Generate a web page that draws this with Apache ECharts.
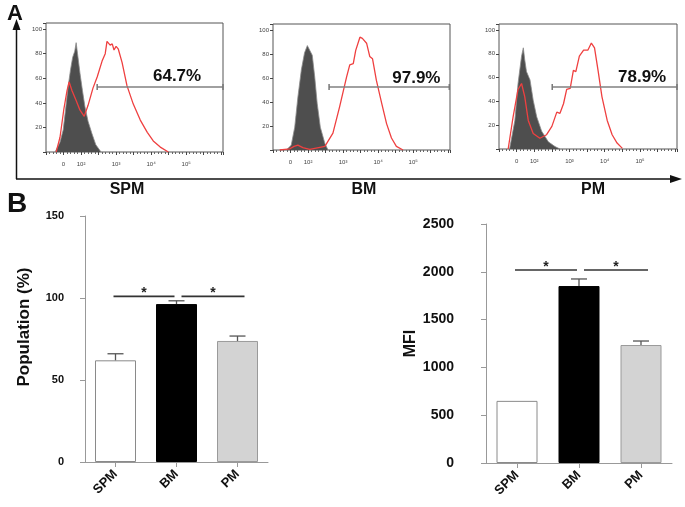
<!DOCTYPE html>
<html>
<head>
<meta charset="utf-8">
<script src="https://cdn.jsdelivr.net/npm/echarts@6/dist/echarts.min.js"></script>
<style>html,body{margin:0;padding:0;background:#fff;}#c{width:685px;height:507px;}</style>
</head>
<body>
<div id="c"></div>
<script>
// ---------- Panel A: flow histograms (x in display decades, y = % of max) ----------
const histTickU = [1.5, 2, 3, 4, 5];
const histTickText = ['0', '10²', '10³', '10⁴', '10⁵'];
const histYTicks = [20, 40, 60, 80, 100];

const spmGrayU = [1.26, 1.40, 1.49, 1.56, 1.63, 1.70, 1.76, 1.82, 1.86, 1.90, 1.97, 2.04, 2.11, 2.20, 2.31, 2.42, 2.57];
const spmGrayY = [0, 8, 18, 35, 53, 67, 77, 82, 89, 80, 64, 50, 37, 25, 15, 6, 0];
const spmRedU = [1.29, 1.40, 1.51, 1.60, 1.66, 1.74, 1.86, 1.97, 2.09, 2.20, 2.34, 2.46, 2.60, 2.69, 2.74, 2.83, 2.89, 2.94, 3.00, 3.06, 3.17, 3.31, 3.49, 3.69, 3.89, 4.06, 4.26, 4.49];
const spmRedY = [0, 12, 35, 50, 57, 50, 42, 34, 29, 38, 52, 61, 74, 80, 90, 87, 88, 83, 86, 84, 73, 54, 39, 26, 16, 9, 4, 0];

const bmGrayU = [1.38, 1.52, 1.62, 1.71, 1.81, 1.90, 1.98, 2.05, 2.12, 2.19, 2.26, 2.35, 2.48, 2.57];
const bmGrayY = [0, 4, 19, 44, 67, 81, 87, 83, 79, 61, 39, 19, 5.5, 0];
const bmRedU = [1.19, 1.48, 1.60, 1.71, 1.85, 2.05, 2.48, 2.71, 2.90, 3.10, 3.19, 3.29, 3.36, 3.48, 3.55, 3.67, 3.76, 3.84, 3.95, 4.10, 4.24, 4.38, 4.52, 4.71];
const bmRedY = [0, 1, 3, 4, 2, 0.5, 3, 14, 36, 61, 71, 72, 83, 94, 93, 89, 78, 76, 58, 39, 22, 10, 3, 0];

const pmGrayU = [1.30, 1.45, 1.54, 1.64, 1.69, 1.73, 1.78, 1.88, 1.97, 2.07, 2.21, 2.40, 2.59, 2.73];
const pmGrayY = [0, 24, 55, 78, 85, 75, 65, 58, 41, 27, 15, 6, 2, 0];
const pmRedU = [1.26, 1.40, 1.54, 1.64, 1.73, 1.83, 1.97, 2.16, 2.35, 2.50, 2.64, 2.73, 2.83, 2.92, 3.02, 3.11, 3.18, 3.28, 3.40, 3.52, 3.62, 3.71, 3.81, 3.92, 4.07, 4.21, 4.35, 4.50];
const pmRedY = [0, 27, 50, 55, 44, 24, 13, 9, 12, 19, 31, 30, 38, 50, 51, 66, 65, 78, 83, 83, 89, 85, 66, 44, 24, 12, 5, 0.5];

const panelNames = ['SPM', 'BM', 'PM'];
const gateStart = [2.46, 2.60, 2.51];
const gateEnd = [6.05, 6.03, 6.05];
const gateLevel = [53, 52.5, 52];
const gatePct = ['64.7%', '97.9%', '78.9%'];
const gateLabelU = [4.74, 5.09, 5.06];
const gateLabelY = [62, 60, 60];

// ---------- Panel B: bar charts ----------
const categories = ['SPM', 'BM', 'PM'];
const popMean = [62, 96.3, 73.8];
const popErr = [4, 2, 3];
const popTicks = [0, 50, 100, 150];
const popSig = [[0, 1, 101], [1, 2, 101]];
const mfiMean = [650, 1851, 1234];
const mfiErr = [0, 74, 42];
const mfiTicks = [0, 500, 1000, 1500, 2000, 2500];
const mfiSig = [[0, 1, 2019], [1, 2, 2019]];

const FONT = 'Liberation Sans, Arial, sans-serif';
const zip = (xs, ys) => xs.map((x, i) => [x, ys[i]]);

const histGrids = [
  {left: 46, top: 23, width: 177, height: 129},
  {left: 273, top: 24, width: 177, height: 126},
  {left: 499, top: 24, width: 178, height: 125}
];
const hist = [
  {gu: spmGrayU, gy: spmGrayY, ru: spmRedU, ry: spmRedY},
  {gu: bmGrayU, gy: bmGrayY, ru: bmRedU, ry: bmRedY},
  {gu: pmGrayU, gy: pmGrayY, ru: pmRedU, ry: pmRedY}
];

const grids = histGrids.map(g => Object.assign({show: true, borderColor: '#555', borderWidth: 1, backgroundColor: 'transparent', outerBoundsMode: 'none'}, g));
grids.push({left: 85, top: 216, width: 183, height: 246, outerBoundsMode: 'none'});
grids.push({left: 486, top: 224, width: 186, height: 239, outerBoundsMode: 'none'});

const xAxes = [], yAxes = [], series = [];
histGrids.forEach((g, k) => {
  xAxes.push({
    type: 'value', gridIndex: k, min: 1, max: 6.05, interval: 0.5,
    axisLine: {show: false}, splitLine: {show: false},
    axisTick: {show: true, length: 3, lineStyle: {color: '#444'}},
    minorTick: {show: true, splitNumber: 5, length: 2, lineStyle: {color: '#666'}},
    axisLabel: {
      interval: 0, margin: 9, fontSize: 6, color: '#444', fontFamily: FONT,
      showMaxLabel: false,
      formatter: v => { const i = histTickU.findIndex(t => Math.abs(t - v) < 1e-6); return i >= 0 ? histTickText[i] : ''; }
    }
  });
  yAxes.push({
    type: 'value', gridIndex: k, min: 0, max: 105, interval: 20,
    axisLine: {show: false}, splitLine: {show: false},
    axisTick: {show: true, length: 3, lineStyle: {color: '#444'}},
    axisLabel: {margin: 4, fontSize: 6, color: '#444', fontFamily: FONT,
      formatter: v => histYTicks.includes(v) ? String(v) : ''}
  });
  const h = hist[k];
  series.push({
    type: 'line', xAxisIndex: k, yAxisIndex: k, data: zip(h.gu, h.gy), showSymbol: false, symbol: 'none',
    lineStyle: {color: '#8a8a8a', width: 0.8}, areaStyle: {color: '#4e4e4e', opacity: 1}, z: 2, silent: true
  });
  series.push({
    type: 'line', xAxisIndex: k, yAxisIndex: k, data: zip(h.ru, h.ry), showSymbol: false, symbol: 'none',
    lineStyle: {color: '#ef4040', width: 1.3}, z: 3, silent: true
  });
  series.push({
    type: 'line', xAxisIndex: k, yAxisIndex: k, clip: false,
    data: [[gateStart[k], gateLevel[k]], [gateEnd[k], gateLevel[k]]],
    symbol: 'rect', symbolSize: [1.5, 6], itemStyle: {color: '#777'},
    lineStyle: {color: '#808080', width: 1.5}, z: 4, silent: true
  });
  series.push({
    type: 'custom', xAxisIndex: k, yAxisIndex: k, z: 5, silent: true, clip: false,
    data: [[gateLabelU[k], gateLabelY[k]]], encode: {x: 0, y: 1},
    renderItem: (params, api) => {
      const p = api.coord([api.value(0), api.value(1)]);
      return {type: 'text', style: {text: gatePct[k], x: p[0], y: p[1], align: 'center', verticalAlign: 'middle',
        textAlign: 'center', textVerticalAlign: 'middle', font: 'bold 17px ' + FONT, fill: '#111'}};
    }
  });
});

function barAxes(gi, ticks, labelSize, labelMargin, name, nameGap, namePad) {
  xAxes.push({
    type: 'category', gridIndex: gi, data: categories,
    axisLine: {show: true, lineStyle: {color: '#999', width: 1}},
    axisTick: {show: true, alignWithLabel: true, length: 5, lineStyle: {color: '#999'}},
    axisLabel: {rotate: 45, margin: 10, fontSize: 13, fontWeight: 'bold', color: '#111', fontFamily: FONT},
    splitLine: {show: false}
  });
  yAxes.push({
    type: 'value', gridIndex: gi, min: ticks[0], max: ticks[ticks.length - 1], interval: ticks[1] - ticks[0],
    name: name, nameLocation: 'middle', nameGap: nameGap,
    nameTextStyle: {fontSize: name === 'MFI' ? 16 : 17, fontWeight: 'bold', color: '#111', fontFamily: FONT, padding: namePad},
    axisLine: {show: true, lineStyle: {color: '#999', width: 1}},
    axisTick: {show: true, length: 5, lineStyle: {color: '#999'}},
    axisLabel: {margin: labelMargin, fontSize: labelSize, fontWeight: 'bold', color: '#111', fontFamily: FONT,
      formatter: v => String(v)},
    splitLine: {show: false}
  });
}
barAxes(3, popTicks, 11, 21, 'Population (%)', 52, [0, 0, 0, 24]);
barAxes(4, mfiTicks, 14, 32, 'MFI', 63, [0, 0, 0, 0]);

const barStyles = [
  {color: '#ffffff', borderColor: '#8a8a8a', borderWidth: 1},
  {color: '#000000', borderColor: '#000000', borderWidth: 1},
  {color: '#d3d3d3', borderColor: '#9a9a9a', borderWidth: 1}
];

function addBars(gi, mean, err, sig) {
  series.push({
    type: 'bar', xAxisIndex: gi, yAxisIndex: gi, barWidth: 41,
    data: mean.map((v, i) => ({value: v, itemStyle: barStyles[i]})), z: 2, silent: true
  });
  series.push({
    type: 'custom', xAxisIndex: gi, yAxisIndex: gi, z: 3, silent: true,
    data: mean.map((m, i) => [i, m, err[i]]), encode: {x: 0, y: 1},
    renderItem: (params, api) => {
      const i = api.value(0), m = api.value(1), e = api.value(2);
      if (!e) return null;
      const p0 = api.coord([i, m]), p1 = api.coord([i, m + e]);
      const st = {stroke: '#555', lineWidth: 1.3};
      return {type: 'group', children: [
        {type: 'line', shape: {x1: p0[0], y1: p0[1], x2: p1[0], y2: p1[1]}, style: st},
        {type: 'line', shape: {x1: p1[0] - 8, y1: p1[1], x2: p1[0] + 8, y2: p1[1]}, style: st}
      ]};
    }
  });
  series.push({
    type: 'custom', xAxisIndex: gi, yAxisIndex: gi, z: 4, silent: true,
    data: sig, encode: {x: [0, 1], y: 2},
    renderItem: (params, api) => {
      const s = api.value(0), e = api.value(1), y = api.value(2);
      const a = api.coord([s, y]), b = api.coord([e, y]);
      const x1 = a[0] + (s > 0 ? 5 : -2), x2 = b[0] + (e > 1 ? 7 : -2);
      return {type: 'group', children: [
        {type: 'line', shape: {x1: x1, y1: a[1], x2: x2, y2: a[1]}, style: {stroke: '#333', lineWidth: 1.6}},
        {type: 'text', style: {text: '*', x: (x1 + x2) / 2, y: a[1] + 4, align: 'center', verticalAlign: 'bottom',
          textAlign: 'center', textVerticalAlign: 'bottom', font: 'bold 14px ' + FONT, fill: '#222'}}
      ]};
    }
  });
}
addBars(3, popMean, popErr, popSig);
addBars(4, mfiMean, mfiErr, mfiSig);

const namePos = [127, 364, 593];
const graphic = [
  {type: 'text', left: 7, top: 3, style: {text: 'A', font: 'bold 22px ' + FONT, fill: '#111'}},
  {type: 'text', left: 7, top: 190, style: {text: 'B', font: 'bold 28px ' + FONT, fill: '#111'}},
  {type: 'polyline', shape: {points: [[16.5, 179], [16.5, 28]]}, style: {stroke: '#111', lineWidth: 1.5}},
  {type: 'polygon', shape: {points: [[12.5, 30], [16.5, 19], [20.5, 30]]}, style: {fill: '#111'}},
  {type: 'polyline', shape: {points: [[16, 179], [672, 179]]}, style: {stroke: '#111', lineWidth: 1.5}},
  {type: 'polygon', shape: {points: [[670, 175], [682, 179], [670, 183]]}, style: {fill: '#111'}}
];
panelNames.forEach((n, i) => graphic.push({
  type: 'text', x: namePos[i], y: 190,
  style: {text: n, font: 'bold 16px ' + FONT, fill: '#111', align: 'center', verticalAlign: 'middle', textAlign: 'center', textVerticalAlign: 'middle'}
}));

const chart = echarts.init(document.getElementById('c'), null, {renderer: 'canvas'});
chart.setOption({
  animation: false,
  backgroundColor: '#fff',
  grid: grids,
  xAxis: xAxes,
  yAxis: yAxes,
  series: series,
  graphic: graphic
});
</script>
</body>
</html>
